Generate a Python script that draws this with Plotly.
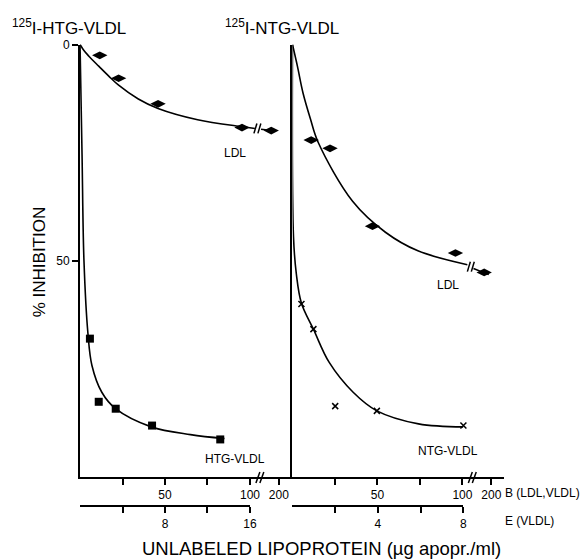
import plotly.graph_objects as go

W, H = 587, 560
FONT = "Liberation Sans, Arial, sans-serif"

# ---------------- data ----------------
# x values of LDL series in B-axis units (µg apoprotein/ml); 112.5 ~ the "200" point beyond the break
ldl_left_pts_x = [11.6, 22.7, 45.9, 95.3, 112.5]
ldl_left_pts_y = [2.5, 7.8, 13.7, 19.2, 19.9]
ldl_left_curve_x = [0, 2.3, 5.2, 11, 16.9, 22.7, 34.3, 45.9, 69.2, 95.3, 102.9]
ldl_left_curve_y = [0, 1.4, 2.7, 5.0, 7.3, 9.4, 12.6, 14.8, 17.4, 19.0, 19.4]
ldl_left_tail_x = [106.5, 115.0]
ldl_left_tail_y = [19.6, 20.0]

# HTG-VLDL on the E (VLDL) axis
htg_pts_x = [0.93, 1.76, 3.36, 6.78, 13.2]
htg_pts_y = [68, 82.6, 84.2, 88.1, 91.3]
htg_curve_x = [0, 0.19, 0.37, 0.74, 1.12, 2.05, 3.35, 6.7, 10.4, 13.6]
htg_curve_y = [0, 25.6, 50, 66.7, 74.2, 80.4, 84.2, 88.4, 90.2, 91.1]

ldl_right_pts_x = [11, 22.1, 47.1, 95.9, 112.8]
ldl_right_pts_y = [22.1, 24, 42, 48.2, 52.7]
ldl_right_curve_x = [0, 2.9, 6.2, 10.5, 15.1, 35.5, 54.7, 73.8, 102.9]
ldl_right_curve_y = [0, 5.0, 11.2, 17.1, 22.6, 36.3, 43.4, 47.7, 50.9]
ldl_right_tail_x = [106.5, 115.5]
ldl_right_tail_y = [51.8, 53.2]

# NTG-VLDL on the E (VLDL) axis
ntg_pts_x = [0.42, 0.98, 2.0, 3.95, 8.0]
ntg_pts_y = [60, 65.8, 83.6, 84.7, 88.1]
ntg_curve_x = [0, 0.048, 0.18, 0.42, 0.98, 1.72, 2.84, 3.95, 5.9, 8.0]
ntg_curve_y = [0, 44.5, 53, 59.8, 65.8, 73.5, 80.4, 84.7, 87.7, 88.4]

b_tickvals = [50, 100, 117]
b_ticktext = ["50", "100", "200"]
b_minor = [25, 75]
e_left_tickvals = [8, 16]
e_left_ticktext = ["8", "16"]
e_left_minor = [4, 12]
e_right_tickvals = [4, 8]
e_right_ticktext = ["4", "8"]
e_right_minor = [2, 6]
y_tickvals = [0, 50]
y_ticktext = ["0", "50"]


def px(x):
    return x / W


def py(y):
    return 1 - y / H


fig = go.Figure()
line_style = dict(color="black", width=1.6, shape="spline", smoothing=1.0)


def curve(x, y, xa, ya):
    fig.add_trace(go.Scatter(x=x, y=y, xaxis=xa, yaxis=ya, mode="lines",
                             line=line_style, hoverinfo="skip", showlegend=False))


def seg(x, y, xa, ya):
    fig.add_trace(go.Scatter(x=x, y=y, xaxis=xa, yaxis=ya, mode="lines",
                             line=dict(color="black", width=1.6), showlegend=False,
                             cliponaxis=False))


def pts(x, y, xa, ya, symbol, size, lw=0):
    fig.add_trace(go.Scatter(x=x, y=y, xaxis=xa, yaxis=ya, mode="markers",
                             marker=dict(symbol=symbol, size=size, color="black",
                                         line=dict(color="black", width=lw)),
                             showlegend=False, cliponaxis=False))


curve(ldl_left_curve_x, ldl_left_curve_y, "x", "y")
seg(ldl_left_tail_x, ldl_left_tail_y, "x", "y")
pts(ldl_left_pts_x, ldl_left_pts_y, "x", "y", "diamond-wide", 11)

curve(htg_curve_x, htg_curve_y, "x3", "y")
pts(htg_pts_x, htg_pts_y, "x3", "y", "square", 8)

curve(ldl_right_curve_x, ldl_right_curve_y, "x2", "y2")
seg(ldl_right_tail_x, ldl_right_tail_y, "x2", "y2")
pts(ldl_right_pts_x, ldl_right_pts_y, "x2", "y2", "diamond-wide", 11)

curve(ntg_curve_x, ntg_curve_y, "x4", "y2")
pts(ntg_pts_x, ntg_pts_y, "x4", "y2", "x-thin", 6, lw=1.5)

ydom = [py(476), py(38)]
tickfont = dict(family=FONT, size=12, color="black")
common_x = dict(showgrid=False, zeroline=False, showline=True, linecolor="black",
                linewidth=2, ticks="outside", ticklen=6, tickwidth=1.5,
                tickcolor="black", tickfont=tickfont, fixedrange=True)


def minor(vals):
    return dict(tickvals=vals, ticks="outside", ticklen=6, tickwidth=1.5,
                tickcolor="black", showgrid=False)


fig.update_layout(
    width=W, height=H,
    margin=dict(l=0, r=0, t=0, b=0),
    paper_bgcolor="white", plot_bgcolor="rgba(0,0,0,0)",
    font=dict(family=FONT, color="black"),
    xaxis=dict(domain=[px(81), px(296)], range=[0, 215 / 1.72], anchor="y",
               tickvals=b_tickvals, ticktext=b_ticktext, minor=minor(b_minor),
               **common_x),
    xaxis2=dict(domain=[px(296), px(510)], range=[0, 214 / 1.72], anchor="y2",
                tickvals=b_tickvals, ticktext=b_ticktext, minor=minor(b_minor),
                **common_x),
    xaxis3=dict(domain=[px(81), px(253)], range=[0, 16], anchor="free",
                position=py(505.5), tickvals=e_left_tickvals,
                ticktext=e_left_ticktext, minor=minor(e_left_minor), **common_x),
    xaxis4=dict(domain=[px(296), px(469)], range=[0, 8], anchor="free",
                position=py(505.5), tickvals=e_right_tickvals,
                ticktext=e_right_ticktext, minor=minor(e_right_minor), **common_x),
    yaxis=dict(domain=ydom, range=[100, 0], anchor="x", showgrid=False,
               zeroline=False, showline=True, linecolor="black", linewidth=2,
               ticks="outside", ticklen=6, tickwidth=1.5, tickcolor="black",
               tickvals=y_tickvals, ticktext=y_ticktext, tickfont=tickfont,
               fixedrange=True),
    yaxis2=dict(domain=ydom, range=[100, 0], anchor="x2", matches="y",
                showgrid=False, zeroline=False, showline=True, linecolor="black",
                linewidth=2, ticks="", showticklabels=False, fixedrange=True),
)

# break marks (axis and curves)
breaks = [
    (259, 482, 263, 471), (263, 482, 267, 471),
    (474, 482, 478, 471), (478, 482, 482, 471),
    (257, 128, 260, 118), (261, 128, 264, 118),
    (473, 268, 476, 258), (477, 268, 480, 258),
]
for x0, y0, x1, y1 in breaks:
    fig.add_shape(type="line", xref="paper", yref="paper",
                  x0=px(x0), y0=py(y0), x1=px(x1), y1=py(y1),
                  line=dict(color="black", width=1.5))


def ann(text, x, y, size, xanchor="center", angle=0):
    fig.add_annotation(text=text, x=px(x), y=py(y), xref="paper", yref="paper",
                       showarrow=False, xanchor=xanchor, yanchor="middle",
                       textangle=angle,
                       font=dict(family=FONT, size=size, color="black"))


ann("<sup>125</sup>I-HTG-VLDL", 10, 20, 17, xanchor="left")
ann("<sup>125</sup>I-NTG-VLDL", 226, 20, 17, xanchor="left")
ann("% INHIBITION", 40, 258, 17, angle=-90)
ann("UNLABELED LIPOPROTEIN (µg apopr./ml)", 325, 548, 18.5)
ann("B (LDL,VLDL)", 509, 492, 12, xanchor="left")
ann("E (VLDL)", 509, 521, 12, xanchor="left")
ann("LDL", 238, 148, 12)
ann("HTG-VLDL", 238, 458, 12)
ann("LDL", 453, 282, 12)
ann("NTG-VLDL", 453, 450, 12)

fig.write_html("out.html")
